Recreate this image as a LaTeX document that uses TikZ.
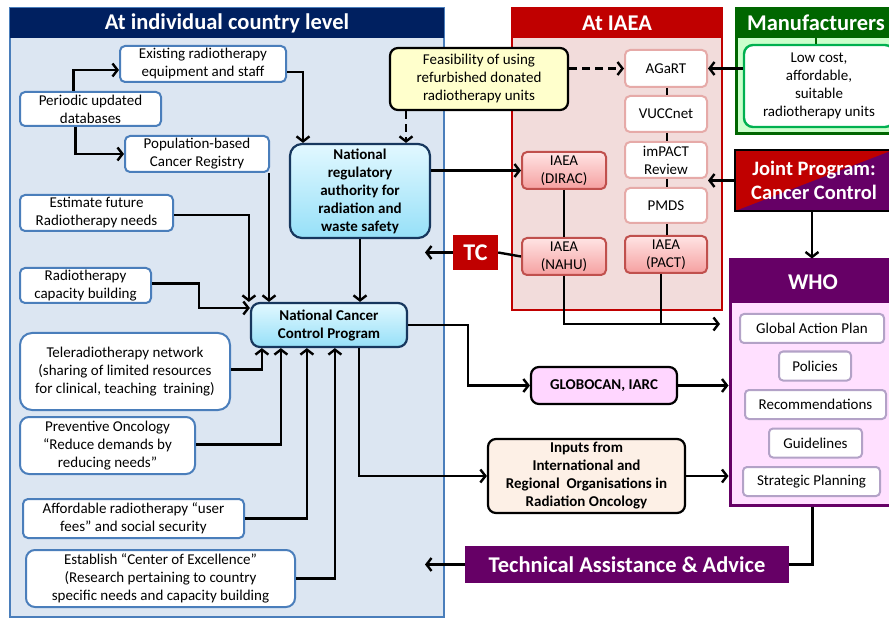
\documentclass[tikz,border=0pt]{standalone}
\usepackage{fontspec}
\setmainfont{Carlito}
\usetikzlibrary{arrows.meta}

\definecolor{navyhead}{RGB}{0,32,96}
\definecolor{ctryfill}{RGB}{220,230,242}
\definecolor{ctryedge}{RGB}{74,126,187}
\definecolor{natedge}{RGB}{23,55,94}
\definecolor{nattop}{RGB}{226,248,255}
\definecolor{natbot}{RGB}{150,224,248}
\definecolor{iaeared}{RGB}{192,0,0}
\definecolor{iaeafill}{RGB}{242,220,219}
\definecolor{iaeaedge}{RGB}{230,170,168}
\definecolor{deptedge}{RGB}{192,80,77}
\definecolor{depttop}{RGB}{255,228,228}
\definecolor{deptbot}{RGB}{245,160,160}
\definecolor{manugreen}{RGB}{0,102,0}
\definecolor{manufill}{RGB}{204,255,204}
\definecolor{manuedge}{RGB}{0,176,80}
\definecolor{whopurple}{RGB}{102,0,102}
\definecolor{whofill}{RGB}{255,224,255}
\definecolor{whoedge}{RGB}{179,162,199}
\definecolor{feasfill}{RGB}{255,255,204}
\definecolor{globofill}{RGB}{255,214,255}
\definecolor{inputfill}{RGB}{253,240,230}

\begin{document}
\begin{tikzpicture}[x=1pt,y=-1pt,
  font=\fontsize{15}{18}\selectfont,
  title/.style={text=white, font=\fontsize{22.5}{26}\selectfont\bfseries},
  ctrybox/.style={draw=ctryedge, line width=2pt, fill=white, rounded corners=5pt, align=center, inner sep=1pt},
  natbox/.style={draw=natedge, line width=2.2pt, rounded corners=9pt, top color=nattop, bottom color=natbot, align=center, font=\fontsize{15}{18}\selectfont\bfseries, inner sep=1pt},
  toolbox/.style={draw=iaeaedge, line width=2pt, fill=white, rounded corners=5pt, align=center, minimum width=82, inner sep=1pt},
  deptbox/.style={draw=deptedge, line width=2pt, rounded corners=5pt, top color=depttop, bottom color=deptbot, align=center, minimum height=37, inner sep=1pt},
  whoitem/.style={draw=whoedge, line width=2pt, fill=white, rounded corners=4pt, minimum height=29, inner sep=1pt},
  blackbox/.style={draw=black, line width=2.2pt, rounded corners=8pt, align=center, font=\fontsize{15}{18}\selectfont\bfseries, inner sep=1pt},
  link/.style={line width=2.4pt, -{Straight Barb[length=5pt,width=13pt]}},
  dashlink/.style={link, dash pattern=on 8pt off 5pt},
  plain/.style={line width=2.4pt}]

\path[use as bounding box] (0,0) rectangle (889,620);
\clip (0,0) rectangle (889,620);

% country panel
\draw[ctryedge, line width=2pt, fill=ctryfill] (10,8) rectangle (444,617);
\fill[navyhead] (10,8) rectangle (444,38);
\node[title] (ctryhead) at (227,23) {At individual country level};

% IAEA panel
\draw[iaeared, line width=2pt, fill=iaeafill] (512,8) rectangle (722,310);
\fill[iaeared] (512,8) rectangle (722,38);
\node[title] (iaeahead) at (617,23) {At IAEA};

% manufacturers panel
\draw[manugreen, line width=3pt, fill=manufill] (736,9) rectangle (895,134);
\fill[manugreen] (736,9) rectangle (895,38);
\node[title] (manuhead) at (816,23) {Manufacturers};
\node[draw=manuedge, line width=2.4pt, fill=white, rounded corners=9pt, minimum width=150, minimum height=82, align=center, inner sep=1pt] (manuf) at (819,86)
  {Low cost,\\affordable,\\suitable\\radiotherapy units};
\draw[manugreen, plain] (manuf.north -| manuhead.south) -- (manuhead.south |- 0,38);

% joint program
\node[draw=black, line width=1.6pt, fill=whopurple, minimum width=158, minimum height=61, align=center,
  text=white, font=\fontsize{20.5}{24}\selectfont\bfseries,
  path picture={\fill[iaeared] (path picture bounding box.south west) -- (path picture bounding box.north west) -- (path picture bounding box.north east) -- cycle;}]
  (joint) at (814,180.5) {Joint Program:\\Cancer Control};

% WHO panel
\node[draw=whopurple, line width=3pt, fill=whofill, minimum width=163, minimum height=245] (who) at (811.5,382.5) {};
\fill[whopurple] (730,260) rectangle (893,303);
\node[title] (whohead) at (813,282) {WHO};
\node[whoitem, minimum width=144] (gap)   at (812,328.5)   {Global Action Plan};
\node[whoitem, minimum width=72]  (pol)   at (815,366)     {Policies};
\node[whoitem, minimum width=141] (rec)   at (815.5,404.5) {Recommendations};
\node[whoitem, minimum width=93]  (guide) at (815.5,443)   {Guidelines};
\node[whoitem, minimum width=137] (strat) at (811.5,481.5) {Strategic Planning};

% technical assistance
\node[fill=whopurple, minimum width=324, minimum height=37, text=white, font=\fontsize{22.5}{26}\selectfont\bfseries] (tech) at (627,564.5) {Technical Assistance \& Advice};

% country boxes
\node[ctrybox, minimum width=166, minimum height=36] (exist)  at (203,64)     {Existing radiotherapy\\equipment and staff};
\node[ctrybox, minimum width=141, minimum height=34] (period) at (90.5,109)   {Periodic updated\\databases};
\node[ctrybox, minimum width=144, minimum height=36] (popul)  at (197,154)    {Population-based\\Cancer Registry};
\node[ctrybox, minimum width=153, minimum height=36] (estim)  at (96.5,213)   {Estimate future\\Radiotherapy needs};
\node[ctrybox, minimum width=131, minimum height=35] (capac)  at (85.5,285.5) {Radiotherapy\\capacity building};
\node[ctrybox, minimum width=210, minimum height=77, rounded corners=12pt] (teler) at (125,371.5)
  {Teleradiotherapy network\\(sharing of limited resources\\for clinical, teaching\ \ training)};
\node[ctrybox, minimum width=175, minimum height=57, rounded corners=9pt] (prevo) at (107.5,445.5)
  {Preventive Oncology\\``Reduce demands by\\reducing needs''};
\node[ctrybox, minimum width=221, minimum height=39] (afford) at (133.5,518.5)
  {Affordable radiotherapy ``user\\fees'' and social security};
\node[ctrybox, minimum width=269, minimum height=57, rounded corners=9pt] (excel) at (160.5,578.5)
  {Establish ``Center of Excellence''\\(Research pertaining to country\\specific needs and capacity building};

\node[natbox, minimum width=140, minimum height=94, rounded corners=12pt] (nra) at (360,191)
  {National\\regulatory\\authority for\\radiation and\\waste safety};
\node[natbox, minimum width=156, minimum height=44] (nccp) at (329,325) {National Cancer\\Control Program};

\node[blackbox, fill=feasfill, minimum width=178, minimum height=62, font=\fontsize{15}{18}\selectfont] (feas) at (479,79)
  {Feasibility of using\\refurbished donated\\radiotherapy units};

% IAEA boxes
\node[toolbox, minimum height=37] (agart)  at (666,68.5)  {AGaRT};
\node[toolbox, minimum height=36] (vucc)   at (666,114)   {VUCCnet};
\node[toolbox, minimum height=36] (impact) at (666,160)   {imPACT\\Review};
\node[toolbox, minimum height=35] (pmds)   at (666,205.5) {PMDS};
\node[deptbox, minimum width=82]  (pact)   at (666,254.5) {IAEA\\(PACT)};
\node[deptbox, minimum width=84]  (dirac)  at (564,170.5) {IAEA\\(DIRAC)};
\node[deptbox, minimum width=84]  (nahu)   at (564,256.5) {IAEA\\(NAHU)};
\node[fill=iaeared, minimum width=45, minimum height=35, text=white, font=\fontsize{24}{26}\selectfont\bfseries] (tc) at (475.5,252.5) {TC};

\node[blackbox, fill=globofill, minimum width=146, minimum height=37] (globo) at (604,385.5) {GLOBOCAN, IARC};
\node[blackbox, fill=inputfill, minimum width=197, minimum height=74] (inputs) at (586.5,476)
  {Inputs from\\International and\\Regional\ \ Organisations in\\Radiation Oncology};

\coordinate (tcend) at (425,254);
\coordinate (iaeaout) at (720,324);

% connectors
\draw[link] ([xshift=-17]period.north) |- ([yshift=-6]exist.west);
\draw[link] ([xshift=-15]period.south) |- (popul.west);
\draw[link] ([yshift=-8]exist.east) -| ([xshift=-57]nra.north);
\draw[dashlink] ([xshift=-73]feas.south) -- ([xshift=-73]feas.south |- nra.north);
\draw[dashlink] (feas.east |- agart.west) -- (agart.west);
\draw[link] (manuf.west |- agart.east) -- (agart.east);
\foreach \a/\b in {agart/vucc, vucc/impact, impact/pmds, pmds/pact}
  \draw[plain] ([xshift=1]\a.south) -- ([xshift=1]\b.north);
\draw[link] (joint.west) -- (joint.west -| impact.east);
\draw[link] ([xshift=-2]joint.south) -- ([xshift=-2]joint.south |- who.north);
\draw[link] (nra.east |- dirac.west) -- (dirac.west);
\draw[plain] (dirac.south) -- (nahu.north);
\draw[plain] (nahu.west) -- (tc.east);
\draw[link] (tc.west) -- (tc.west -| tcend);
\draw[link] (nahu.south) |- (iaeaout);
\draw[plain] ([xshift=-5]pact.south) -- ([xshift=-5]pact.south |- iaeaout);
\draw[link] (nra.south) -- (nra.south |- nccp.north);
\draw[link] ([xshift=-1]popul.south east) -- ([xshift=-1]popul.south east |- nccp.north);
\draw[link] ([yshift=-2]estim.east) -| ([xshift=-1]nccp.north west);
\draw[link] ([yshift=2]capac.east) -| ([xshift=-51,yshift=17]nccp.west) -- ([yshift=17]nccp.west);
\draw[link] ([yshift=2]teler.east) -| ([xshift=12]nccp.south west);
\draw[link] ([yshift=1]prevo.east) -| ([xshift=31]nccp.south west);
\draw[link] (afford.east) -| ([xshift=57]nccp.south west);
\draw[link] (excel.east) -| ([xshift=85]nccp.south west);
\draw[link] (nccp.east) -| ([xshift=-62]globo.west) -- (globo.west);
\draw[link] ([xshift=30]nccp.south) |- (inputs.west);
\draw[link] (globo.east) -- (globo.east -| who.west);
\draw[link] (inputs.east) -- (inputs.east -| who.west);
\draw[plain] ([xshift=1]who.south) |- (tech.east);
\draw[link] (tech.west) -- (tech.west -| tcend);
\end{tikzpicture}
\end{document}
